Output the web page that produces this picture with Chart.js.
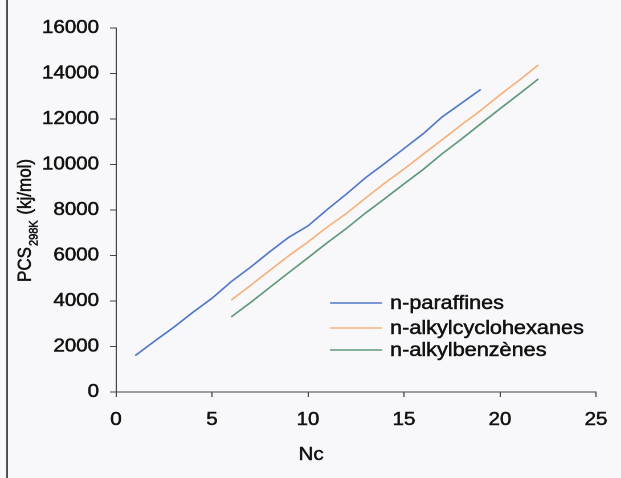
<!DOCTYPE html>
<html>
<head>
<meta charset="utf-8">
<script src="https://cdn.jsdelivr.net/npm/chart.js@4.4.1/dist/chart.umd.min.js"></script>
<style>
  html, body { margin: 0; padding: 0; background: #f8f8fa; overflow: hidden; }
  #wrap { width: 545px; height: 478px; transform: scaleX(1.1395); transform-origin: 0 0; }
</style>
</head>
<body>
<div id="wrap"><canvas id="c" width="545" height="478"></canvas></div>
<script>
// Carbon numbers and standard heats of combustion (kJ/mol) per family
const ncParaffines  = [1, 2, 3, 4, 5, 6, 7, 8, 9, 10, 11, 12, 13, 14, 15, 16, 17, 18, 19];
const pcsParaffines = [1600, 2230, 2840, 3500, 4120, 4850, 5480, 6160, 6800, 7300,
                       8020, 8700, 9420, 10050, 10700, 11350, 12100, 12700, 13300];

const ncCyclohexanes  = [6, 7, 8, 9, 10, 11, 12, 13, 14, 15, 16, 17, 18, 19, 20, 21, 22];
const pcsCyclohexanes = [4040, 4680, 5340, 5990, 6600, 7250, 7850, 8530, 9180,
                         9800, 10450, 11100, 11750, 12380, 13060, 13700, 14380];

const ncBenzenes  = [6, 7, 8, 9, 10, 11, 12, 13, 14, 15, 16, 17, 18, 19, 20, 21, 22];
const pcsBenzenes = [3300, 3930, 4590, 5250, 5900, 6560, 7190, 7870, 8500,
                     9150, 9780, 10480, 11120, 11790, 12450, 13100, 13760];

const seriesNames = ['n-paraffines', 'n-alkylcyclohexanes', 'n-alkylbenzènes'];

const xTicks = [0, 5, 10, 15, 20, 25];
const yTicks = [0, 2000, 4000, 6000, 8000, 10000, 12000, 14000, 16000];

const toPoints = (xs, ys) => xs.map((x, i) => ({ x: x, y: ys[i] }));

const FONT = '"Liberation Sans", Arial, sans-serif';
const INK = '#111';

function inkText(ctx, text, x, y) {
  ctx.fillText(text, x, y);
  ctx.strokeText(text, x, y);
}

// Frame line, axis titles and the in-plot legend
const decor = {
  id: 'decor',
  beforeDraw(chart) {
    const ctx = chart.ctx;
    ctx.save();
    ctx.strokeStyle = '#4a4a4a';
    ctx.lineWidth = 1.6;
    ctx.beginPath();
    ctx.moveTo(6.2, 0);
    ctx.lineTo(6.2, chart.height);
    ctx.stroke();
    ctx.restore();
  },
  afterDraw(chart) {
    const ctx = chart.ctx;
    ctx.save();
    ctx.fillStyle = INK;
    ctx.strokeStyle = INK;
    ctx.lineWidth = 0.5;

    // Y axis title with subscript
    ctx.translate(27.2, 282);
    ctx.rotate(-Math.PI / 2);
    ctx.textBaseline = 'alphabetic';
    ctx.textAlign = 'left';
    ctx.font = '17px ' + FONT;
    inkText(ctx, 'PCS', 0, 0);
    let x = ctx.measureText('PCS').width;
    ctx.font = '11px ' + FONT;
    inkText(ctx, '298K', x + 1, 6);
    x += ctx.measureText('298K').width + 2;
    ctx.font = '17px ' + FONT;
    inkText(ctx, ' (kj/mol)', x, 0);
    ctx.restore();

    // X axis title
    ctx.save();
    ctx.fillStyle = INK;
    ctx.strokeStyle = INK;
    ctx.lineWidth = 0.5;
    ctx.font = '18px ' + FONT;
    ctx.textAlign = 'center';
    ctx.textBaseline = 'middle';
    inkText(ctx, 'Nc', 273, 455);
    ctx.restore();

    // Legend
    ctx.save();
    const rows = [303, 328, 350];
    ctx.font = '19px ' + FONT;
    ctx.textAlign = 'left';
    ctx.textBaseline = 'middle';
    chart.data.datasets.forEach((ds, i) => {
      ctx.strokeStyle = ds.borderColor;
      ctx.lineWidth = 1.5;
      ctx.beginPath();
      ctx.moveTo(289.6, rows[i]);
      ctx.lineTo(335.2, rows[i]);
      ctx.stroke();
      ctx.fillStyle = INK;
      ctx.strokeStyle = INK;
      ctx.lineWidth = 0.5;
      inkText(ctx, ds.label, 342.3, rows[i] + 1);
    });
    ctx.restore();
  }
};

const axisStyle = {
  grid: { display: true, drawOnChartArea: false, drawTicks: true, color: '#444', tickColor: '#444', tickWidth: 1 },
  border: { display: true, color: '#444', width: 1 }
};

const tickFont = { color: INK, textStrokeColor: INK, textStrokeWidth: 0.5, font: { family: FONT, size: 18 } };

new Chart(document.getElementById('c'), {
  type: 'scatter',
  data: {
    datasets: [
      { label: seriesNames[0], data: toPoints(ncParaffines, pcsParaffines), borderColor: '#5079cb' },
      { label: seriesNames[1], data: toPoints(ncCyclohexanes, pcsCyclohexanes), borderColor: '#f6b27c' },
      { label: seriesNames[2], data: toPoints(ncBenzenes, pcsBenzenes), borderColor: '#5f9a7c' }
    ].map(d => Object.assign(d, { showLine: true, pointRadius: 0, borderWidth: 1.6, tension: 0, fill: false }))
  },
  options: {
    responsive: false,
    animation: false,
    devicePixelRatio: 2,
    layout: { padding: { top: 28, right: 19.3, bottom: 0, left: 0 } },
    plugins: { legend: { display: false }, tooltip: { enabled: false } },
    scales: {
      x: {
        type: 'linear', min: 0, max: 25,
        grid: Object.assign({}, axisStyle.grid, { tickLength: 5 }),
        border: axisStyle.border,
        afterBuildTicks: s => { s.ticks = xTicks.map(v => ({ value: v })); },
        afterFit: s => { s.height = 86; },
        ticks: Object.assign({}, tickFont, { padding: 12, maxRotation: 0, callback: v => String(v) })
      },
      y: {
        type: 'linear', min: 0, max: 16000,
        grid: Object.assign({}, axisStyle.grid, { tickLength: 5.3 }),
        border: axisStyle.border,
        afterBuildTicks: s => { s.ticks = yTicks.map(v => ({ value: v })); },
        afterFit: s => { s.width = 101.8; },
        ticks: Object.assign({}, tickFont, { padding: 9.6, callback: v => String(v) })
      }
    }
  },
  plugins: [decor]
});
</script>
</body>
</html>
